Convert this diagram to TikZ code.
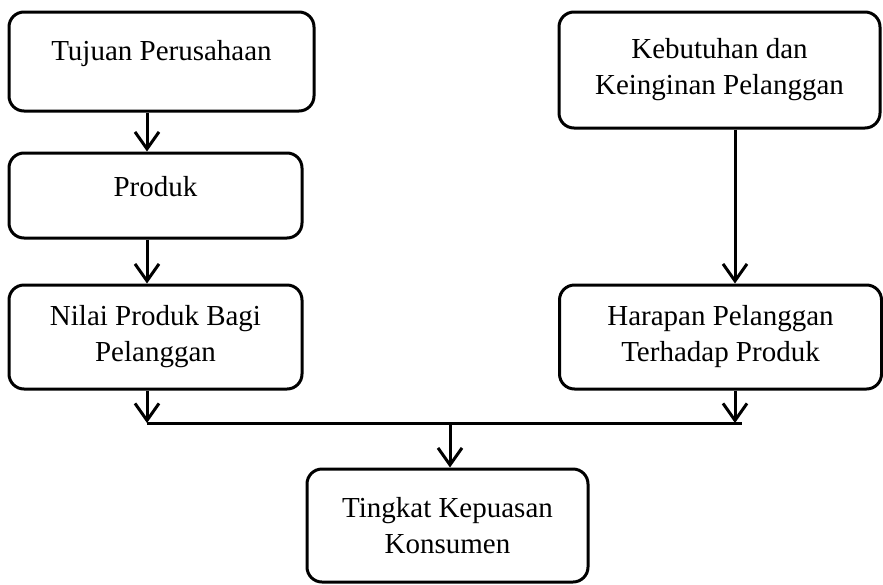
\documentclass[tikz,border=0pt]{standalone}
\usepackage{fontspec}
\setmainfont{Liberation Serif}
\usetikzlibrary{arrows.meta}

\begin{document}
\begin{tikzpicture}[x=1pt, y=-1pt, line width=3pt,
  bx/.style={draw, line width=3pt, rounded corners=15pt, align=center,
             inner sep=0pt, font=\fontsize{29}{36}\selectfont},
  >={Straight Barb[length=17pt,width=24pt]}]
  \useasboundingbox (0,0) rectangle (883,584);
  \node[bx, minimum width=305pt, minimum height=99pt, text depth=22pt]
    (tujuan) at (161.5,61.5) {Tujuan Perusahaan};
  \node[bx, minimum width=293pt, minimum height=85pt, text depth=18pt]
    (produk) at (155.5,195.5) {Produk};
  \node[bx, minimum width=293pt, minimum height=104pt]
    (nilai) at (155.5,337) {Nilai Produk Bagi\\Pelanggan};
  \node[bx, minimum width=321pt, minimum height=116pt]
    (kebutuhan) at (719.5,70) {Kebutuhan dan\\Keinginan Pelanggan};
  \node[bx, minimum width=322pt, minimum height=104pt]
    (harapan) at (720.5,337) {Harapan Pelanggan\\Terhadap Produk};
  \node[bx, minimum width=281pt, minimum height=113pt]
    (tingkat) at (447.5,525.5) {Tingkat Kepuasan\\Konsumen};
  % columns and joining line
  \coordinate (lcol) at (147,0);
  \coordinate (rcol) at (735,0);
  \coordinate (jl) at (147,423);
  \coordinate (jr) at (742,423);
  \coordinate (jm) at (450,423);
  \draw[->] (tujuan.south -| lcol) -- (produk.north -| lcol);
  \draw[->] (produk.south -| lcol) -- (nilai.north -| lcol);
  \draw[->] (kebutuhan.south -| rcol) -- (harapan.north -| rcol);
  \draw[->] (nilai.south -| lcol) -- (jl);
  \draw[->] (harapan.south -| rcol) -- (rcol |- jr);
  \draw (jl) -- (jr);
  \draw[->] (jm) -- (tingkat.north -| jm);
\end{tikzpicture}
\end{document}
